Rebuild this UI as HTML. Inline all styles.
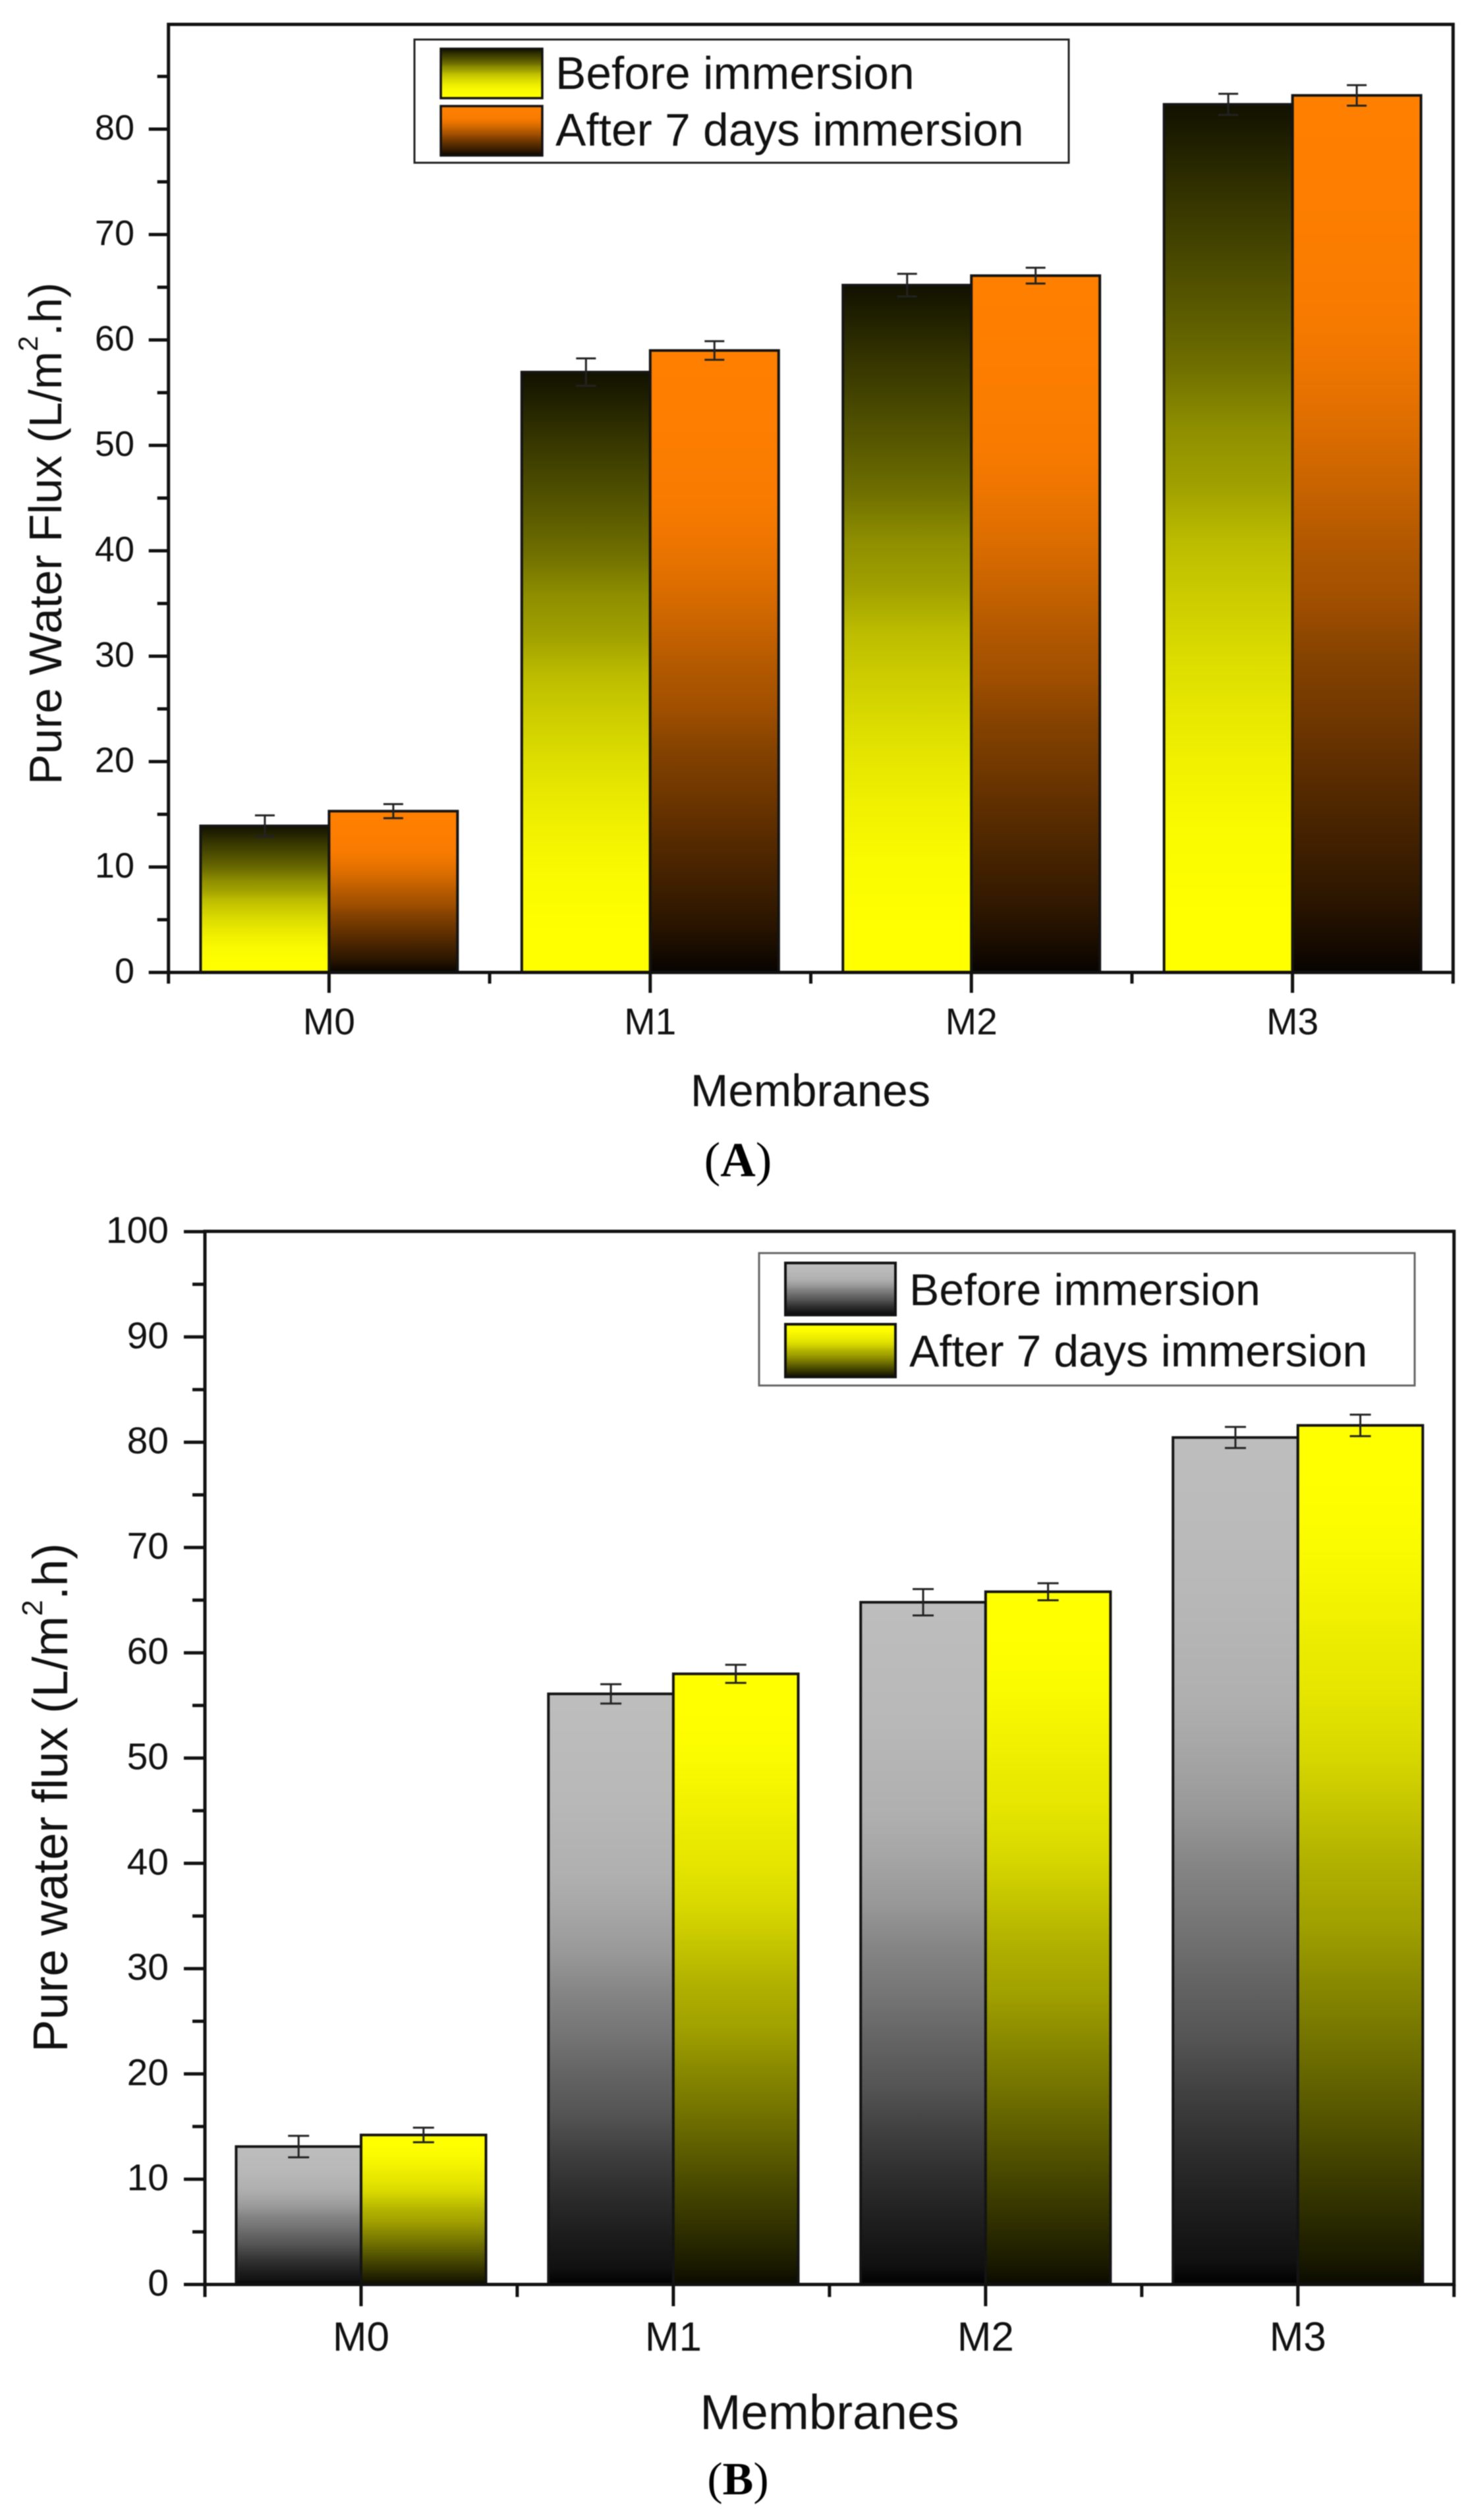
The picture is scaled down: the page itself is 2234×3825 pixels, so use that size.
<!DOCTYPE html>
<html lang="en">
<head>
<meta charset="utf-8">
<title>Pure water flux before and after 7 days immersion</title>
<style>
  html, body { margin: 0; padding: 0; background: #fff; }
  svg { display: block; font-family: "Liberation Sans", Arial, sans-serif; fill: #111; filter: blur(0.7px); }
  .serif { font-family: "Liberation Serif", "Times New Roman", serif; }
</style>
</head>
<body>
<svg id="figure" xmlns="http://www.w3.org/2000/svg" width="2234" height="3825" viewBox="0 0 2234 3825">
  <defs>
    <linearGradient id="grad-dark-yellow" x1="0" y1="0" x2="0" y2="1">
      <stop offset="0" stop-color="#111100"/>
      <stop offset="0.105" stop-color="#333300"/>
      <stop offset="0.238" stop-color="#5a5a00"/>
      <stop offset="0.305" stop-color="#707000"/>
      <stop offset="0.372" stop-color="#8e8e00"/>
      <stop offset="0.44" stop-color="#a0a000"/>
      <stop offset="0.505" stop-color="#bcbc00"/>
      <stop offset="0.57" stop-color="#cccc00"/>
      <stop offset="0.64" stop-color="#dcdc00"/>
      <stop offset="0.705" stop-color="#e8e800"/>
      <stop offset="0.77" stop-color="#f2f200"/>
      <stop offset="0.84" stop-color="#fafa00"/>
      <stop offset="0.94" stop-color="#ffff00"/>
      <stop offset="1" stop-color="#ffff00"/>
    </linearGradient>
    <linearGradient id="grad-orange-dark" x1="0" y1="0" x2="0" y2="1">
      <stop offset="0" stop-color="#ff8000"/>
      <stop offset="0.11" stop-color="#fd7e00"/>
      <stop offset="0.245" stop-color="#f87b00"/>
      <stop offset="0.31" stop-color="#ed7500"/>
      <stop offset="0.38" stop-color="#dc6d00"/>
      <stop offset="0.445" stop-color="#c86300"/>
      <stop offset="0.51" stop-color="#b25800"/>
      <stop offset="0.576" stop-color="#a04f00"/>
      <stop offset="0.64" stop-color="#854200"/>
      <stop offset="0.71" stop-color="#703700"/>
      <stop offset="0.775" stop-color="#5a2c00"/>
      <stop offset="0.84" stop-color="#452200"/>
      <stop offset="0.91" stop-color="#2e1700"/>
      <stop offset="0.97" stop-color="#150a00"/>
      <stop offset="1" stop-color="#060300"/>
    </linearGradient>
    <linearGradient id="grad-grey-dark" x1="0" y1="0" x2="0" y2="1">
      <stop offset="0" stop-color="#bdbdbd"/>
      <stop offset="0.175" stop-color="#b8b8b8"/>
      <stop offset="0.31" stop-color="#afafaf"/>
      <stop offset="0.374" stop-color="#a5a5a5"/>
      <stop offset="0.44" stop-color="#989898"/>
      <stop offset="0.507" stop-color="#848484"/>
      <stop offset="0.574" stop-color="#757575"/>
      <stop offset="0.64" stop-color="#646464"/>
      <stop offset="0.707" stop-color="#555555"/>
      <stop offset="0.774" stop-color="#404040"/>
      <stop offset="0.84" stop-color="#2e2e2e"/>
      <stop offset="0.907" stop-color="#1e1e1e"/>
      <stop offset="0.973" stop-color="#101010"/>
      <stop offset="1" stop-color="#000000"/>
    </linearGradient>
    <linearGradient id="grad-yellow-dark" x1="0" y1="0" x2="0" y2="1">
      <stop offset="0" stop-color="#ffff00"/>
      <stop offset="0.054" stop-color="#ffff00"/>
      <stop offset="0.12" stop-color="#fcfc00"/>
      <stop offset="0.185" stop-color="#f5f500"/>
      <stop offset="0.25" stop-color="#ecec00"/>
      <stop offset="0.317" stop-color="#e4e400"/>
      <stop offset="0.38" stop-color="#d8d800"/>
      <stop offset="0.447" stop-color="#c4c400"/>
      <stop offset="0.51" stop-color="#b0b000"/>
      <stop offset="0.58" stop-color="#a0a000"/>
      <stop offset="0.645" stop-color="#8a8a00"/>
      <stop offset="0.71" stop-color="#757500"/>
      <stop offset="0.777" stop-color="#5e5e00"/>
      <stop offset="0.84" stop-color="#484800"/>
      <stop offset="0.908" stop-color="#303000"/>
      <stop offset="0.974" stop-color="#181800"/>
      <stop offset="1" stop-color="#0a0a00"/>
    </linearGradient>
  </defs>

  <rect x="0" y="0" width="2234" height="3825" fill="#ffffff"/>

  <g id="panel-a"></g>
  <g id="panel-b"></g>

  <!-- Panel A static labels -->
  <text transform="translate(93,1191) rotate(-90)" font-size="69.5">Pure Water Flux (L/m<tspan dy="-36" font-size="42">2</tspan><tspan dy="36">.h)</tspan></text>
  <text x="1230" y="1679" font-size="69" text-anchor="middle">Membranes</text>
  <text class="serif" x="1120" y="1785" font-size="74" text-anchor="middle" fill="#000">(<tspan font-weight="bold">A</tspan>)</text>

  <g>
    <rect x="629" y="60" width="993" height="187" fill="#fff" stroke="#222" stroke-width="3"/>
    <rect x="669" y="74" width="154" height="75" fill="url(#grad-dark-yellow)" stroke="#111" stroke-width="3.5"/>
    <rect x="669" y="161" width="154" height="75" fill="url(#grad-orange-dark)" stroke="#111" stroke-width="3.5"/>
    <text x="843" y="135" font-size="69.5">Before immersion</text>
    <text x="843" y="221" font-size="69.5">After 7 days immersion</text>
  </g>

  <!-- Panel B static labels -->
  <text transform="translate(102,3115) rotate(-90)" font-size="74">Pure water flux (L/m<tspan dy="-38" font-size="44">2</tspan><tspan dy="38">.h)</tspan></text>
  <text x="1259" y="3687" font-size="74.5" text-anchor="middle">Membranes</text>
  <text class="serif" x="1120" y="3786" font-size="70" text-anchor="middle" fill="#000">(<tspan font-weight="bold">B</tspan>)</text>

  <g>
    <rect x="1152" y="1902" width="995" height="201" fill="#fff" stroke="#666" stroke-width="3"/>
    <rect x="1192" y="1917" width="167" height="79" fill="url(#grad-grey-dark)" stroke="#111" stroke-width="4"/>
    <rect x="1192" y="2010" width="167" height="80" fill="url(#grad-yellow-dark)" stroke="#111" stroke-width="4"/>
    <text x="1380" y="1981" font-size="68">Before immersion</text>
    <text x="1380" y="2074" font-size="68">After 7 days immersion</text>
  </g>
</svg>

<script>
// ---- Chart data ----
const categories = ['M0', 'M1', 'M2', 'M3'];

const panelABefore = [13.9, 56.95, 65.2, 82.35];
const panelAAfter = [15.3, 59.0, 66.1, 83.2];
const panelABeforeErr = [1.0, 1.3, 1.07, 1.0];
const panelAAfterErr = [0.67, 0.88, 0.75, 0.97];
const panelAYTicks = [0, 10, 20, 30, 40, 50, 60, 70, 80];
const panelAYMinorTicks = [5, 15, 25, 35, 45, 55, 65, 75, 85];

const panelBBefore = [13.1, 56.1, 64.8, 80.45];
const panelBAfter = [14.2, 58.0, 65.8, 81.6];
const panelBBeforeErr = [1.02, 0.92, 1.25, 1.0];
const panelBAfterErr = [0.69, 0.86, 0.81, 1.02];
const panelBYTicks = [0, 10, 20, 30, 40, 50, 60, 70, 80, 90, 100];
const panelBYMinorTicks = [5, 15, 25, 35, 45, 55, 65, 75, 85, 95];

const xMinorTicks = [-0.5, 0.5, 1.5, 2.5, 3.5];

// ---- Rendering ----
const SVG_NS = 'http://www.w3.org/2000/svg';

function mk(tag, geometry, parent) {
  const el = document.createElementNS(SVG_NS, tag);
  for (const key in geometry) {
    el.setAttribute(key, geometry[key]);
  }
  parent.appendChild(el);
  return el;
}

function drawPanel(root, prefix, cfg, before, after, beforeErr, afterErr, yTicks, yMinor) {
  const xScale = function (c) {
    return cfg.left + (c + 0.5) * (cfg.right - cfg.left) / 4;
  };
  const yScale = function (v) {
    return cfg.y0 - v * cfg.pxPerUnit;
  };
  const barW = 0.4 * (cfg.right - cfg.left) / 4;

  function drawSeries(values, errs, offset, fill, seriesName) {
    values.forEach(function (v, i) {
      const x = xScale(i) + offset * barW;
      const yTop = yScale(v);
      const bar = mk('rect', { x: x, y: yTop, width: barW, height: cfg.y0 - yTop, fill: fill, stroke: '#141414', 'stroke-width': cfg.barStroke }, root);
      
      
    });
    values.forEach(function (v, i) {
      const cx = xScale(i) + offset * barW + barW / 2;
      const yHi = yScale(v + errs[i]);
      const yLo = yScale(v - errs[i]);
      const err = mk('path', {
        d: 'M' + cx + ' ' + yHi + 'V' + yLo +
           'M' + (cx - cfg.capHalf) + ' ' + yHi + 'H' + (cx + cfg.capHalf) +
           'M' + (cx - cfg.capHalf) + ' ' + yLo + 'H' + (cx + cfg.capHalf),
        fill: 'none', stroke: '#222', 'stroke-width': 3
      }, root);
      
      
    });
  }

  drawSeries(before, beforeErr, -1, cfg.beforeFill, 'before');
  drawSeries(after, afterErr, 0, cfg.afterFill, 'after');

  const frame = mk('rect', { x: cfg.left, y: cfg.top, width: cfg.right - cfg.left, height: cfg.y0 - cfg.top, fill: 'none', stroke: '#111', 'stroke-width': 5 }, root);
  
  

  yTicks.forEach(function (v) {
    const y = yScale(v);
    const tick = mk('line', { x1: cfg.left - cfg.majorY, x2: cfg.left, y1: y, y2: y, stroke: '#111', 'stroke-width': 5 }, root);
    
    
    const label = mk('text', { x: cfg.yLabelX, y: y + cfg.yLabelDy, 'font-size': cfg.yLabelSize, 'text-anchor': 'end' }, root);
    label.textContent = String(v);
    
    
  });

  yMinor.forEach(function (v) {
    const y = yScale(v);
    const tick = mk('line', { x1: cfg.left - cfg.minorY, x2: cfg.left, y1: y, y2: y, stroke: '#111', 'stroke-width': 5 }, root);
    
    
  });

  categories.forEach(function (name, i) {
    const x = xScale(i);
    const tick = mk('line', { x1: x, x2: x, y1: cfg.y0, y2: cfg.y0 + cfg.majorX, stroke: '#111', 'stroke-width': 5 }, root);
    
    
    const label = mk('text', { x: x, y: cfg.xLabelY, 'font-size': cfg.xLabelSize, 'text-anchor': 'middle' }, root);
    label.textContent = name;
    
    
  });

  xMinorTicks.forEach(function (c) {
    const x = xScale(c);
    const tick = mk('line', { x1: x, x2: x, y1: cfg.y0, y2: cfg.y0 + cfg.minorX, stroke: '#111', 'stroke-width': 5 }, root);
    
    
  });
}

drawPanel(document.getElementById('panel-a'), 'panel-a', {
  left: 255.7, right: 2205.3, top: 37, y0: 1476, pxPerUnit: 16,
  barStroke: 4, capHalf: 15, majorY: 30, minorY: 17, majorX: 31, minorX: 17,
  yLabelX: 204, yLabelDy: 16, yLabelSize: 54, xLabelY: 1570, xLabelSize: 57,
  beforeFill: 'url(#grad-dark-yellow)', afterFill: 'url(#grad-orange-dark)'
}, panelABefore, panelAAfter, panelABeforeErr, panelAAfterErr, panelAYTicks, panelAYMinorTicks);

drawPanel(document.getElementById('panel-b'), 'panel-b', {
  left: 311, right: 2206.7, top: 1869, y0: 3467.5, pxPerUnit: 15.98,
  barStroke: 4, capHalf: 16, majorY: 32, minorY: 19, majorX: 33, minorX: 19,
  yLabelX: 256, yLabelDy: 17, yLabelSize: 57, xLabelY: 3568, xLabelSize: 62,
  beforeFill: 'url(#grad-grey-dark)', afterFill: 'url(#grad-yellow-dark)'
}, panelBBefore, panelBAfter, panelBBeforeErr, panelBAfterErr, panelBYTicks, panelBYMinorTicks);
</script>
</body>
</html>
